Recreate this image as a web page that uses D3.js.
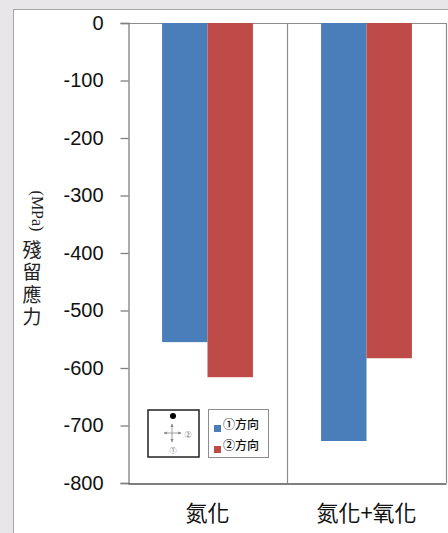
<!DOCTYPE html>
<html>
<head>
<meta charset="utf-8">
<script src="https://cdn.jsdelivr.net/npm/d3@7"></script>
<style>
  html, body { margin: 0; padding: 0; background: #e9e6ea; }
  svg { display: block; }
</style>
</head>
<body>
<svg id="chart" width="448" height="533"></svg>
<script>
// ---- data ----
const categories = ["氮化", "氮化+氧化"];
const seriesNames = ["①方向", "②方向"];
const seriesColors = ["#4A7EBB", "#BE4B48"];
const dir1Values = [-555, -727];
const dir2Values = [-616, -583];
const yTicks = [0, -100, -200, -300, -400, -500, -600, -700, -800];

const seriesValues = [dir1Values, dir2Values];

const svg = d3.select("#chart");

// background & chart area
svg.append("rect").attr("x", 0).attr("y", 0).attr("width", 448).attr("height", 533).attr("fill", "#e9e6ea");
svg.append("rect").attr("x", 13.5).attr("y", 9.5).attr("width", 450).attr("height", 540)
  .attr("fill", "#ffffff").attr("stroke", "#a6a6a6").attr("stroke-width", 1);

const plot = { left: 128, right: 446, top: 23, bottom: 483 };

const y = d3.scaleLinear().domain([-800, 0]).range([plot.bottom, plot.top]);
const x0 = d3.scaleBand().domain(categories).range([plot.left, plot.right]).paddingInner(0).paddingOuter(0);
const x1 = d3.scaleBand().domain(seriesNames).range([0, x0.bandwidth()]).paddingInner(0).paddingOuter(0.75);

// plot area border (top, right) and category separators
const g = svg.append("g");
g.append("line").attr("x1", plot.left).attr("x2", plot.right).attr("y1", plot.top + 0.5).attr("y2", plot.top + 0.5)
  .attr("stroke", "#8c8c8c").attr("stroke-width", 1.2);
g.append("line").attr("x1", plot.right + 0.5).attr("x2", plot.right + 0.5).attr("y1", plot.top).attr("y2", plot.bottom)
  .attr("stroke", "#8c8c8c").attr("stroke-width", 1.2);
categories.slice(1).forEach(c => {
  const xs = Math.round(x0(c)) + 0.5;
  g.append("line").attr("x1", xs).attr("x2", xs).attr("y1", plot.top).attr("y2", plot.bottom)
    .attr("stroke", "#8c8c8c").attr("stroke-width", 1.2);
});

// bars
seriesNames.forEach((s, si) => {
  g.selectAll(null).data(categories).enter().append("rect")
    .attr("x", c => x0(c) + x1(s))
    .attr("width", x1.bandwidth())
    .attr("y", y(0))
    .attr("height", (c, i) => y(seriesValues[si][i]) - y(0))
    .attr("fill", seriesColors[si]);
});

// y axis
const yAxis = d3.axisLeft(y).tickValues(yTicks).tickSize(8).tickPadding(17).tickFormat(d => String(d));
const ya = svg.append("g").attr("transform", `translate(${plot.left + 0.5},0)`).call(yAxis);
ya.select(".domain").attr("stroke", "#7f7f7f").attr("stroke-width", 1.3);
ya.selectAll(".tick line").attr("stroke", "#7f7f7f").attr("stroke-width", 1.3);
ya.selectAll(".tick text").attr("font-family", "Liberation Sans, Arial, sans-serif")
  .attr("font-size", 20).attr("fill", "#111");

// x axis line
const xAxis = d3.axisBottom(x0).tickSize(0).tickPadding(18);
const xa = svg.append("g").attr("transform", `translate(0,${plot.bottom + 0.5})`).call(xAxis);
xa.select(".domain").attr("stroke", "#555").attr("stroke-width", 1.5);
xa.selectAll(".tick text").attr("font-family", "Noto Sans CJK TC, sans-serif")
  .attr("font-size", 22).attr("fill", "#111").attr("dy", "0.9em");

// y axis title
svg.append("text").attr("transform", "translate(37,211) rotate(90)")
  .attr("text-anchor", "middle").attr("dominant-baseline", "central")
  .attr("font-family", "Liberation Serif, Times New Roman, serif").attr("font-size", 16).attr("fill", "#222")
  .text("(MPa)");
svg.append("text")
  .attr("x", 32).attr("y", 285)
  .style("writing-mode", "vertical-rl")
  .attr("text-anchor", "middle")
  .attr("letter-spacing", 3.5)
  .attr("font-family", "Noto Sans CJK TC, sans-serif").attr("font-size", 19).attr("fill", "#222")
  .text("殘留應力");

// direction pictogram
const pic = svg.append("g");
pic.append("rect").attr("x", 148).attr("y", 410).attr("width", 51).attr("height", 47)
  .attr("fill", "#fff").attr("stroke", "#222").attr("stroke-width", 1.5);
pic.append("circle").attr("cx", 173).attr("cy", 416).attr("r", 3).attr("fill", "#000");
const defs = svg.append("defs");
defs.append("marker").attr("id", "ah").attr("viewBox", "0 0 10 10").attr("refX", 9).attr("refY", 5)
  .attr("markerWidth", 4).attr("markerHeight", 4).attr("orient", "auto")
  .append("path").attr("d", "M0,0 L10,5 L0,10 z").attr("fill", "#888");
[[172, 433, 164, 433], [172, 433, 181, 433], [172, 433, 172, 424], [172, 433, 172, 442]].forEach(a => {
  pic.append("line").attr("x1", a[0]).attr("y1", a[1]).attr("x2", a[2]).attr("y2", a[3])
    .attr("stroke", "#888").attr("stroke-width", 0.8).attr("marker-end", "url(#ah)");
});
pic.append("text").attr("x", 188).attr("y", 434).attr("text-anchor", "middle").attr("dominant-baseline", "central")
  .attr("font-family", "Noto Sans CJK TC, sans-serif").attr("font-size", 7).attr("fill", "#444").text("②");
pic.append("text").attr("x", 173).attr("y", 450).attr("text-anchor", "middle").attr("dominant-baseline", "central")
  .attr("font-family", "Noto Sans CJK TC, sans-serif").attr("font-size", 7).attr("fill", "#444").text("①");

// legend
const lg = svg.append("g");
lg.append("rect").attr("x", 208.5).attr("y", 409.5).attr("width", 60).attr("height", 48)
  .attr("fill", "#fff").attr("stroke", "#8c8c8c").attr("stroke-width", 1);
seriesNames.forEach((s, i) => {
  lg.append("rect").attr("x", 214).attr("y", 425 + i * 21).attr("width", 7).attr("height", 7).attr("fill", seriesColors[i]);
  lg.append("text").attr("x", 223).attr("y", 423 + i * 21).attr("dominant-baseline", "central")
    .attr("font-family", "Noto Sans CJK TC, sans-serif").attr("font-size", 12).attr("font-weight", 500)
    .attr("fill", "#111").text(s);
});
</script>
</body>
</html>
